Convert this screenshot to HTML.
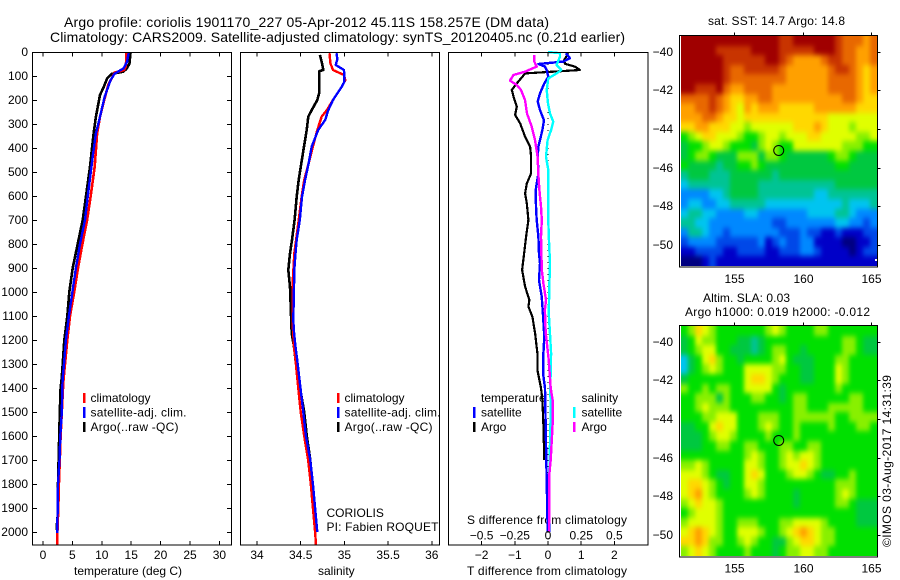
<!DOCTYPE html>
<html lang="en">
<head>
<meta charset="utf-8">
<title>Argo profile</title>
<style>
html,body{margin:0;padding:0;background:#fff;}
#chart{display:block;position:absolute;left:0;top:0;}
text{font-family:"Liberation Sans",Arial,sans-serif;font-size:12px;fill:#000;}
.title{font-size:14px;}
</style>
</head>
<body>
<svg id="chart" width="900" height="580" viewBox="0 0 900 580" xmlns="http://www.w3.org/2000/svg">
<rect width="900" height="580" fill="#fff"/>
<text class="title" x="64" y="27" textLength="485" lengthAdjust="spacing">Argo profile: coriolis 1901170_227 05-Apr-2012 45.11S 158.257E (DM data)</text>
<text class="title" x="50" y="42" textLength="575" lengthAdjust="spacing">Climatology: CARS2009. Satellite-adjusted climatology: synTS_20120405.nc (0.21d earlier)</text>
<text x="74" y="575">temperature (deg C)</text>
<text x="318" y="575">salinity</text>
<text x="467" y="524" textLength="160" lengthAdjust="spacing">S difference from climatology</text>
<text x="467" y="575" textLength="160" lengthAdjust="spacing">T difference from climatology</text>
<text x="90.5" y="402">climatology</text>
<text x="90.5" y="416.5" textLength="96" lengthAdjust="spacing">satellite-adj. clim.</text>
<text x="90.5" y="431" textLength="88" lengthAdjust="spacing">Argo(..raw -QC)</text>
<text x="344.5" y="402">climatology</text>
<text x="344.5" y="416.5" textLength="96" lengthAdjust="spacing">satellite-adj. clim.</text>
<text x="344.5" y="431" textLength="88" lengthAdjust="spacing">Argo(..raw -QC)</text>
<text x="326.5" y="517">CORIOLIS</text>
<text x="326.5" y="531" textLength="112" lengthAdjust="spacing">PI: Fabien ROQUET</text>
<text x="481" y="402">temperature</text>
<text x="481" y="416.5">satellite</text>
<text x="481" y="431">Argo</text>
<text x="581.5" y="402">salinity</text>
<text x="581.5" y="416.5">satellite</text>
<text x="581.5" y="431">Argo</text>
<g shape-rendering="crispEdges">
<rect x="83" y="393" width="2.5" height="10" fill="#ff0000"/>
<rect x="83" y="407" width="2.5" height="11" fill="#0000ff"/>
<rect x="83" y="422" width="2.5" height="10" fill="#000"/>
<rect x="337" y="393" width="2.5" height="10" fill="#ff0000"/>
<rect x="337" y="407" width="2.5" height="11" fill="#0000ff"/>
<rect x="337" y="422" width="2.5" height="10" fill="#000"/>
<rect x="473" y="407" width="2.5" height="11" fill="#0000ff"/>
<rect x="473" y="422" width="2.5" height="10" fill="#000"/>
<rect x="573" y="407" width="2.5" height="11" fill="#00ffff"/>
<rect x="573" y="422" width="2.5" height="10" fill="#ff00ff"/>
</g>
<text x="708" y="25" textLength="137" lengthAdjust="spacing">sat. SST: 14.7  Argo: 14.8</text>
<text x="703" y="302" textLength="87" lengthAdjust="spacing">Altim. SLA: 0.03</text>
<text x="685" y="316" textLength="185" lengthAdjust="spacing">Argo h1000: 0.019 h2000: -0.012</text>
<text transform="translate(891,547) rotate(-90)" textLength="172" lengthAdjust="spacing">©IMOS 03-Aug-2017 14:31:39</text>
</svg>
<script>
// ---------- profile data ----------
const depthTicks = [0,100,200,300,400,500,600,700,800,900,1000,1100,1200,1300,1400,1500,1600,1700,1800,1900,2000];
const tempTicks = [0,5,10,15,20,25,30];
const salTicks = [34,34.5,35,35.5,36];
const salTickLabels = ['34','34.5','35','35.5','36'];
const tDiffTicks = [-2,-1,0,1,2];
const tDiffTickLabels = ['-2','-1','0','1','2'];
const sDiffTickLabels = ['-0.5','-0.25','0','0.25','0.5'];
const lonTicks = [155,160,165];
const latTicks = [-40,-42,-44,-46,-48,-50];
const profileLon = 158.257;
const profileLat = -45.11;

const tempArgoDepth = [0,50,70,82,91,110,147,179,270,339,478,603,700,800,900,1000,1100,1200,1300,1360,1400,1500,1600,1700,1800,1900,1990];
const tempArgo = [14.9,14.7,14.2,13.66,11.7,10.9,10.3,9.7,9.0,8.6,8.0,7.3,6.75,5.9,5.05,4.48,4.14,3.63,3.35,3.18,3.0,2.85,2.75,2.65,2.55,2.6,2.3];
const tempClimDepth = [0,60,75,86,137,200,270,339,478,603,700,800,900,1000,1100,1200,1300,1360,1400,1500,1600,1700,1800,1900,2000,2054];
const tempClim = [14.2,14.1,13.8,12.2,11.1,10.4,9.7,9.2,8.8,8.1,7.5,6.7,5.95,5.3,4.6,4.13,3.74,3.5,3.4,3.2,3.0,2.85,2.7,2.6,2.45,2.4];
const tempSatDepth = [0,40,68,90,117,186,270,339,436,603,700,800,900,1000,1100,1200,1300,1360,1400,1500,1600,1700,1800,1900,2005];
const tempSat = [14.6,14.3,13.7,12.2,11.5,10.5,9.7,9.0,8.45,7.6,7.14,6.3,5.6,5.0,4.4,3.9,3.57,3.35,3.28,3.2,2.95,2.8,2.55,2.5,2.4];

const salArgoDepth = [12,47,75,80,117,172,200,242,269,325,394,464,533,603,700,783,839,908,978,1047,1172,1228,1283,1394,1500,1600,1700,1800,1900,2000];
const salArgo = [34.72,34.744,34.76,34.71,34.71,34.71,34.69,34.626,34.587,34.569,34.538,34.507,34.477,34.454,34.43,34.40,34.378,34.358,34.378,34.385,34.397,34.423,34.44,34.49,34.54,34.57,34.61,34.63,34.65,34.68];
const salClimDepth = [5,47,75,96,117,144,200,242,269,325,394,464,533,603,700,839,957,1138,1228,1283,1394,1500,1600,1700,1800,1900,2000,2054];
const salClim = [34.83,34.84,34.87,34.995,35.01,34.97,34.87,34.80,34.74,34.69,34.64,34.59,34.54,34.51,34.477,34.427,34.408,34.408,34.423,34.44,34.47,34.50,34.54,34.585,34.615,34.64,34.665,34.675];
const salSatDepth = [5,30,54,75,124,144,200,242,283,325,394,464,533,603,700,783,839,908,978,1117,1172,1228,1283,1394,1500,1600,1700,1800,1900,2000];
const salSat = [34.91,34.92,34.90,34.995,35.0,34.97,34.87,34.816,34.78,34.70,34.626,34.59,34.55,34.515,34.49,34.454,34.44,34.427,34.423,34.415,34.425,34.44,34.46,34.495,34.53,34.56,34.61,34.64,34.665,34.69];

const tDiffArgoDepth = [5,33,49,61,75,89,103,131,158,186,228,262,297,353,394,436,506,548,589,630,700,769,840,908,978,1033,1061,1103,1172,1256,1325,1400,1450,1554,1700];
const tDiffArgo = [0.61,0.49,0.51,0.81,0.96,-0.69,-0.77,-0.94,-1.09,-1.04,-0.94,-0.99,-0.84,-0.69,-0.54,-0.51,-0.51,-0.64,-0.69,-0.64,-0.59,-0.66,-0.72,-0.78,-0.69,-0.56,-0.59,-0.47,-0.39,-0.32,-0.32,-0.21,-0.17,-0.14,-0.11];
const tDiffSatDepth = [5,26,40,50,61,75,103,131,172,206,242,284,325,394,436,506,575,644,700,769,840,880,950,1019,1075,1186,1256,1350,1400,1700,2000];
const tDiffSat = [0.54,0.66,0.46,-0.29,-0.09,-0.04,0.01,-0.11,-0.24,-0.31,-0.24,-0.12,-0.17,-0.29,-0.31,-0.29,-0.37,-0.36,-0.34,-0.29,-0.27,-0.24,-0.27,-0.19,-0.16,-0.11,-0.14,-0.14,-0.09,-0.05,-0.01];
const sDiffArgoDepth = [12,40,61,82,96,119,137,158,200,256,311,367,436,506,575,644,700,769,840,908,964,1033,1075,1172,1228,1283,1400,1450,1550,1600,1700,1760,2000];
const sDiffArgo = [-0.105,-0.103,-0.085,-0.173,-0.26,-0.286,-0.236,-0.203,-0.173,-0.158,-0.123,-0.098,-0.078,-0.073,-0.065,-0.053,-0.047,-0.053,-0.05,-0.047,-0.035,-0.015,-0.023,-0.017,-0.005,0.005,0.02,0.035,0.035,0.03,0.02,0.01,0.01];
const sDiffSatDepth = [0,5,19,54,75,89,110,158,214,256,290,325,367,436,492,575,700,769,880,978,1089,1256,1400,1500,1760,2000];
const sDiffSat = [0.0,0.09,0.09,0.065,0.10,0.065,0.0025,-0.01,0.0,0.015,0.04,0.023,-0.003,-0.015,0.0025,0.0025,0.002,0.006,0.015,0.01,0.006,0.023,0.017,0.02,0.01,0.012];

// ---------- map data (colour-level index per grid cell) ----------
const sstGrid = [
[14,14,14,14,14,14,14,14,14,14,14,14,14,14,13,13,14,14,14,14,14,14,13,12,12,12,11,12],
[14,14,14,14,14,13,13,13,13,13,14,14,14,14,13,13,13,13,13,14,14,14,13,12,12,11,11,12],
[14,14,14,14,14,14,13,13,13,13,13,13,14,14,13,12,11,11,11,11,12,13,13,12,12,11,11,12],
[14,14,14,14,14,14,13,12,12,13,13,13,13,13,12,11,11,11,11,11,11,12,13,13,12,11,10,11],
[14,14,14,14,14,14,13,12,12,12,12,12,12,12,12,11,11,11,11,11,11,12,12,12,12,11,10,11],
[14,14,13,13,13,14,12,11,11,12,12,12,12,11,11,11,11,11,11,11,11,12,12,12,12,11,10,11],
[12,12,12,12,13,12,11,10,10,11,11,12,12,11,11,11,11,11,11,11,11,11,11,12,12,11,10,10],
[11,11,12,12,13,12,11,10,9,11,10,11,11,11,10,10,10,10,10,11,11,11,11,11,11,10,10,10],
[11,11,11,12,12,11,10,10,9,10,10,10,10,10,10,10,10,10,10,10,10,9,9,9,9,9,9,9],
[10,10,11,11,10,10,10,9,9,8,9,9,9,9,9,9,10,10,10,11,10,9,9,9,8,9,9,9],
[7,8,9,10,10,9,9,9,8,7,7,8,9,9,8,9,9,9,10,10,9,9,9,9,9,8,8,9],
[6,7,7,8,9,9,8,7,7,7,6,8,9,8,7,7,9,9,9,9,9,9,9,8,8,8,7,7],
[6,7,8,8,7,6,6,6,8,8,8,6,8,8,7,6,6,6,6,6,6,7,8,8,7,6,6,6],
[7,6,6,6,6,5,6,6,7,7,8,7,6,6,6,6,6,6,6,6,6,6,7,7,6,6,6,6],
[5,6,6,6,5,5,5,6,6,6,6,6,6,5,6,6,6,6,6,6,6,6,6,6,6,6,6,6],
[4,5,5,5,5,5,5,6,6,6,6,5,5,5,5,5,5,5,5,5,5,5,6,6,6,6,6,6],
[3,3,3,3,4,4,5,6,6,6,6,5,5,5,5,5,5,5,5,4,4,5,5,5,5,5,5,5],
[3,4,4,3,3,4,4,5,5,5,5,5,4,4,4,4,4,4,4,4,4,4,4,5,4,4,4,5],
[4,5,5,4,4,3,3,3,3,4,4,3,3,3,3,3,3,3,4,4,4,4,5,5,4,3,3,3],
[5,5,4,4,3,3,3,3,3,3,3,3,3,2,2,3,3,3,3,3,3,3,4,4,3,3,2,3],
[3,5,5,4,3,3,2,3,3,3,3,3,3,3,2,2,2,3,2,2,1,1,2,1,1,1,2,2],
[2,3,3,3,3,2,2,2,2,2,2,3,1,2,3,2,2,3,3,1,1,1,1,0,0,1,1,2],
[1,1,2,2,2,2,1,1,2,2,2,2,1,1,2,2,2,3,3,2,1,1,1,1,0,1,2,2],
[0,0,0,1,2,1,1,1,1,1,1,1,1,1,1,1,1,1,1,1,1,1,1,1,1,1,1,1]
];
const slaGrid = [
[7,8,10,9,8,7,7,7,7,7,7,7,8,9,8,7,7,7,7,8,8,7,7,7,7,7,7,7],
[6,7,9,8,8,7,7,7,6,6,5,6,7,7,7,7,7,7,7,7,7,7,7,8,8,7,6,6],
[6,7,8,9,9,7,7,6,6,6,5,6,7,8,8,7,7,6,7,7,7,7,7,8,8,7,6,6],
[4,6,7,9,10,8,7,7,6,7,7,7,7,8,9,7,6,6,6,7,7,7,8,8,7,7,7,7],
[4,6,7,8,9,8,7,7,7,9,9,9,9,8,8,7,7,6,6,7,7,7,9,8,7,7,7,7],
[6,7,7,7,7,7,7,7,7,9,10,10,9,8,7,7,7,6,6,7,7,7,9,8,7,7,7,7],
[8,7,7,8,7,8,8,7,7,9,9,9,9,7,6,7,7,7,7,7,7,7,8,7,7,7,7,7],
[7,7,8,8,8,6,8,7,7,7,8,8,7,7,6,7,8,8,7,7,7,7,7,7,8,8,7,7],
[7,7,8,9,8,8,8,7,7,7,7,7,7,7,7,7,8,8,7,7,7,8,8,8,8,8,7,7],
[7,7,7,8,8,9,9,9,7,7,7,8,8,8,7,7,8,8,8,8,8,8,7,7,8,8,8,8],
[6,6,7,7,9,10,9,9,7,7,7,8,9,8,7,7,8,7,7,7,7,8,7,7,7,8,8,7],
[6,6,6,7,8,9,9,8,7,7,7,7,8,7,7,7,8,7,7,7,7,7,7,7,7,7,7,7],
[6,6,6,7,7,8,8,7,7,8,8,7,7,7,8,8,7,7,8,8,7,7,7,7,7,7,7,7],
[7,7,7,7,7,7,7,7,7,8,9,8,7,7,8,9,8,9,9,8,7,7,7,7,7,7,7,7],
[8,8,9,8,7,7,7,7,7,9,9,8,7,7,8,9,9,10,9,8,7,7,7,7,7,7,7,7],
[9,9,9,8,7,6,6,7,7,9,10,9,7,7,7,8,9,9,8,7,6,6,7,7,8,7,7,7],
[9,10,10,9,8,7,6,7,7,9,9,8,7,7,7,7,7,7,7,7,7,7,8,8,8,7,7,7],
[9,10,11,9,8,7,7,7,7,8,9,8,7,7,7,7,6,7,7,7,7,7,8,9,8,7,7,7],
[8,9,10,9,9,8,7,7,7,7,7,7,7,7,7,7,6,7,7,7,7,7,8,8,7,6,6,6],
[7,8,9,9,9,8,7,7,7,7,7,7,7,7,7,7,7,7,7,7,7,7,7,7,7,6,6,6],
[8,9,9,9,9,8,7,7,8,8,8,7,7,7,8,8,9,9,9,9,8,7,7,7,7,6,6,6],
[9,10,11,10,9,8,7,7,9,9,9,8,7,7,8,9,10,11,10,9,8,8,7,7,7,7,7,7],
[10,10,11,10,8,8,7,7,8,9,8,7,7,6,6,8,9,10,10,9,8,8,7,7,7,7,7,7],
[8,9,10,9,8,7,7,7,7,8,7,7,7,6,7,8,8,9,9,8,8,7,7,7,7,7,7,7]
];
const levelColors = ['#000080','#0000c8','#0048e8','#0088ff','#00c4f0','#00c494','#00c840','#00e000','#88f000','#e0ff00','#ffd800','#ffa000','#e86800','#c83400','#a00000'];

// ---------- axis functions ----------
const svg = document.getElementById('chart');
const NS = 'http://www.w3.org/2000/svg';
const yDepth = d => 52 + 0.24 * d;
const xTemp = t => 43 + 5.88 * t;
const xSal = s => 257 + 87.4 * (s - 34);
const xTDiff = t => 548 + 33.2 * t;
const xSDiff = s => 548 + 132.8 * s;
const xLon = lon => 734.3 + 13.64 * (lon - 155);
const ySst = lat => 51.7 + 19.33 * (-40 - lat);
const ySla = lat => 341.7 + 19.33 * (-40 - lat);

function make(tag, attrs, parent) {
  const el = document.createElementNS(NS, tag);
  for (const k in attrs) el.setAttribute(k, attrs[k]);
  (parent || svg).appendChild(el);
  return el;
}
function label(txt, x, y, anchor, name) {
  const el = make('text', {x: x, y: y, 'text-anchor': anchor});
  el.textContent = String(txt).replace(/^-/, '\u2212');
  
  
  return el;
}
function tickLine(x1, y1, x2, y2) {
  const el = make('line', {x1: x1, y1: y1, x2: x2, y2: y2, stroke: '#000', 'stroke-width': 1, 'shape-rendering': 'crispEdges'});
  
  
}
function box(x, y, w, h, name) {
  const el = make('rect', {x: x, y: y, width: w, height: h, fill: 'none', stroke: '#000', 'stroke-width': 1, 'shape-rendering': 'crispEdges'});
  
  
}
function profile(depths, values, xFn, color, width, name) {
  const pts = depths.map((d, i) => xFn(values[i]).toFixed(1) + ',' + yDepth(d).toFixed(1)).join(' ');
  const el = make('polyline', {points: pts, fill: 'none', stroke: color, 'stroke-width': width, 'stroke-linejoin': 'round', 'shape-rendering': 'crispEdges'});
  
  
}
function topBottomTicks(positions, top, bottom) {
  positions.forEach(x => {
    tickLine(x, top, x, top + 4);
    tickLine(x, bottom - 4, x, bottom);
  });
}

// ---------- temperature panel ----------
profile(tempArgoDepth, tempArgo, xTemp, '#000', 2.6, 'temperature-argo-line');
profile(tempClimDepth, tempClim, xTemp, '#ff0000', 2.6, 'temperature-climatology-line');
profile(tempSatDepth, tempSat, xTemp, '#0000ff', 2.4, 'temperature-satellite-line');
box(32.5, 52.5, 199, 492.5, 'temperature-panel-frame');
topBottomTicks(tempTicks.map(xTemp), 52.5, 545);
tempTicks.forEach(t => label(t, xTemp(t), 559, 'middle', 'temperature-tick-label'));
depthTicks.forEach(d => {
  const y = Math.round(yDepth(d)) + 0.5;
  tickLine(32.5, y, 37, y);
  tickLine(227, y, 231.5, y);
  label(d, 28, y + 3.5, 'end', 'depth-tick-label');
});

// ---------- salinity panel ----------
profile(salArgoDepth, salArgo, xSal, '#000', 2.6, 'salinity-argo-line');
profile(salClimDepth, salClim, xSal, '#ff0000', 2.4, 'salinity-climatology-line');
profile(salSatDepth, salSat, xSal, '#0000ff', 2.4, 'salinity-satellite-line');
box(240.5, 52.5, 199, 492.5, 'salinity-panel-frame');
topBottomTicks(salTicks.map(xSal), 52.5, 545);
salTicks.forEach((s, i) => label(salTickLabels[i], xSal(s), 559, 'middle', 'salinity-tick-label'));

// ---------- difference panel ----------
const zeroLine = make('line', {x1: xTDiff(0), y1: yDepth(50), x2: xTDiff(0), y2: yDepth(2030), stroke: '#000', 'stroke-width': 1, 'stroke-dasharray': '1 5', 'shape-rendering': 'crispEdges'});


profile(tDiffArgoDepth, tDiffArgo, xTDiff, '#000', 2.2, 't-difference-argo-line');
profile(tDiffSatDepth, tDiffSat, xTDiff, '#0000ff', 2.4, 't-difference-satellite-line');
profile(sDiffSatDepth, sDiffSat, xSDiff, '#00ffff', 2.4, 's-difference-satellite-line');
profile(sDiffArgoDepth, sDiffArgo, xSDiff, '#ff00ff', 2.4, 's-difference-argo-line');
box(448.5, 52.5, 199.5, 492.5, 'difference-panel-frame');
topBottomTicks(tDiffTicks.map(xTDiff), 52.5, 545);
tDiffTicks.forEach((t, i) => {
  label(tDiffTickLabels[i], xTDiff(t), 559, 'middle', 't-difference-tick-label');
  label(sDiffTickLabels[i], xTDiff(t), 539.5, 'middle', 's-difference-tick-label');
});

// ---------- maps ----------
const defs = make('defs', {});
function drawMap(grid, imgTop, imgBottom, yLat, prefix, bottomLabelY) {
  const left = 681, right = 877;
  const rows = grid.length, cols = grid[0].length;
  const bleed = 14;
  const clip = make('clipPath', {id: prefix + '-clip'}, defs);
  make('rect', {x: left, y: imgTop, width: right - left, height: imgBottom - imgTop}, clip);
  const blur = make('filter', {id: prefix + '-soften', filterUnits: 'userSpaceOnUse', x: left - bleed, y: imgTop - bleed, width: right - left + 2 * bleed, height: imgBottom - imgTop + 2 * bleed, 'color-interpolation-filters': 'sRGB'}, defs);
  make('feGaussianBlur', {stdDeviation: '2 2.6'}, blur);
  const holder = make('g', {'clip-path': 'url(#' + prefix + '-clip)'});
  
  
  const g = make('g', {'shape-rendering': 'crispEdges', filter: 'url(#' + prefix + '-soften)'}, holder);
  grid.forEach((row, r) => {
    row.forEach((v, c) => {
      const x1 = Math.round(left + (right - left) * c / cols) - (c === 0 ? bleed : 0);
      const x2 = Math.round(left + (right - left) * (c + 1) / cols) + (c === cols - 1 ? bleed : 0);
      const y1 = Math.round(imgTop + (imgBottom - imgTop) * r / rows) - (r === 0 ? bleed : 0);
      const y2 = Math.round(imgTop + (imgBottom - imgTop) * (r + 1) / rows) + (r === rows - 1 ? bleed : 0);
      const cell = make('rect', {x: x1, y: y1, width: x2 - x1, height: y2 - y1, fill: levelColors[v]}, g);
      
      
    });
  });
  box(679.5, imgTop - 0.5, 198, imgBottom - imgTop + 1.5, prefix + '-map-frame');
  lonTicks.forEach(lon => {
    const x = Math.round(xLon(lon)) + 0.5;
    tickLine(x, imgTop - 3.5, x, imgTop - 0.5);
    label(lon, x, bottomLabelY, 'middle', prefix + '-longitude-label');
  });
  latTicks.forEach(lat => {
    const y = Math.round(yLat(lat)) + 0.5;
    tickLine(877.5, y, 880.5, y);
    label(lat, 673, y + 3.5, 'end', prefix + '-latitude-label');
  });
  const marker = make('circle', {cx: xLon(profileLon), cy: yLat(profileLat), r: 5, fill: 'none', stroke: '#000', 'stroke-width': 1});
  
  
}
drawMap(sstGrid, 36, 266, ySst, 'sst', 283);
drawMap(slaGrid, 326, 556, ySla, 'sla', 572.5);
const speck = make('rect', {x: 875, y: 259, width: 2, height: 2, fill: '#fff', 'shape-rendering': 'crispEdges'});


</script>
</body>
</html>
